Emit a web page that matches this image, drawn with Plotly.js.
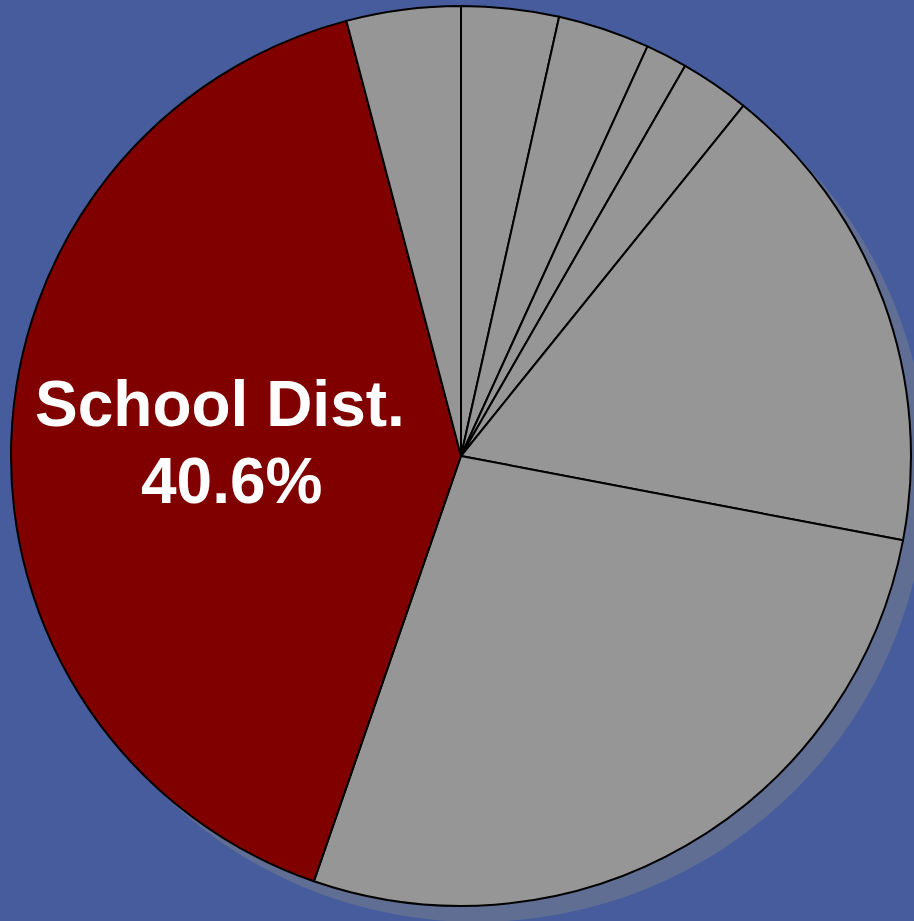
<!DOCTYPE html>
<html>
<head>
<meta charset="utf-8">
<script src="https://cdn.plot.ly/plotly-3.0.1.min.js"></script>
<style>html,body{margin:0;padding:0;background:#465C9C;}#chart{width:914px;height:921px;}</style>
</head>
<body>
<div id="chart"></div>
<script>
// Slices clockwise from 12 o'clock
const labels = ["Other A", "Other B", "Other C", "Other D", "Other E", "Other F", "School Dist.", "Other G"];
const values = [3.5, 3.3, 1.5, 2.5, 17.2, 27.3, 40.6, 4.1];
const colors = ["#969696", "#969696", "#969696", "#969696", "#969696", "#969696", "#800000", "#969696"];
const highlightIndex = 6;

const W = 914, H = 921;
const cx = 461, cy = 456, r = 450;
const sdx = 16, sdy = 16;

function dom(x0, y0, rr) {
  return {
    x: [(x0 - rr) / W, (x0 + rr) / W],
    y: [(H - y0 - rr) / H, (H - y0 + rr) / H]
  };
}

const pie = {
  type: "pie",
  values: values,
  labels: labels,
  marker: {colors: colors, line: {color: "#000000", width: 2}},
  textinfo: "none",
  hoverinfo: "label+percent",
  sort: false,
  direction: "clockwise",
  rotation: 0,
  showlegend: false,
  domain: dom(cx, cy, r)
};

const font = {family: "Liberation Sans, Arial, sans-serif", size: 64, color: "#FFFFFF", weight: "bold"};

const layout = {
  width: W, height: H,
  margin: {l: 0, r: 0, t: 0, b: 0},
  paper_bgcolor: "#465C9C",
  plot_bgcolor: "#465C9C",
  showlegend: false,
  shapes: [{
    type: "circle",
    xref: "paper", yref: "paper",
    x0: (cx + sdx - r) / W, x1: (cx + sdx + r) / W,
    y0: (H - cy - sdy - r) / H, y1: (H - cy - sdy + r) / H,
    fillcolor: "#606E94",
    line: {width: 0},
    layer: "below"
  }],
  annotations: [{
    text: labels[highlightIndex],
    xref: "paper", yref: "paper",
    x: 220 / W, y: 1 - 404 / H,
    xanchor: "center", yanchor: "middle",
    showarrow: false,
    font: font
  }, {
    text: values[highlightIndex].toFixed(1) + "%",
    xref: "paper", yref: "paper",
    x: 231 / W, y: 1 - 481 / H,
    xanchor: "center", yanchor: "middle",
    showarrow: false,
    font: font
  }]
};

Plotly.newPlot("chart", [pie], layout, {displayModeBar: false, staticPlot: true});
</script>
</body>
</html>
